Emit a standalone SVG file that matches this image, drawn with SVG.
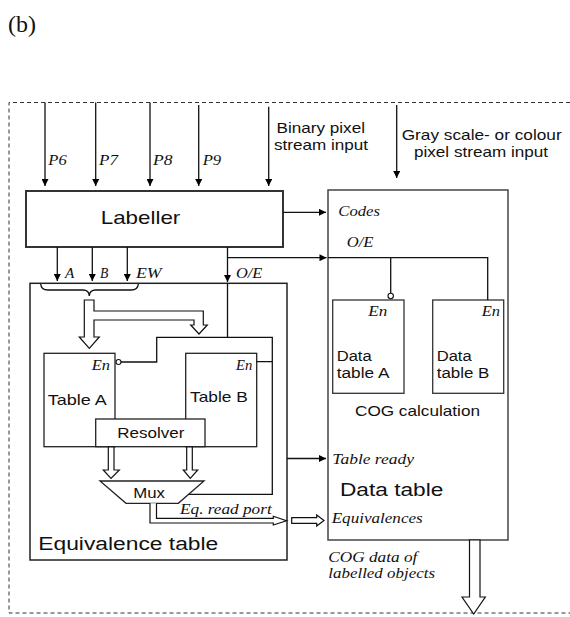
<svg xmlns="http://www.w3.org/2000/svg" width="570" height="617" viewBox="0 0 570 617">
<style>
.sans{font-family:"Liberation Sans",Arial,sans-serif;fill:#111}
.it{font-family:"Liberation Serif","Times New Roman",serif;font-style:italic;fill:#111}
.box{fill:none;stroke:#222;stroke-width:1.5}
.ln{fill:none;stroke:#111;stroke-width:1.3}
.hol{fill:#fff;stroke:#111;stroke-width:1.2}
.dash{fill:none;stroke:#333;stroke-width:1;stroke-dasharray:4 3}
</style>
<defs>
<marker id="ah" viewBox="0 0 10 10" refX="10" refY="5" markerWidth="8" markerHeight="7" markerUnits="userSpaceOnUse" orient="auto">
<path d="M0,0 L10,5 L0,10 Z" fill="#000"/>
</marker>
</defs>
<rect width="570" height="617" fill="#fff"/>
<text x="8" y="32" style="font-family:'Liberation Serif',serif;font-size:24px;fill:#111">(b)</text>
<path class="dash" d="M570,102.5 H9 V613 H570"/>

<g id="labeller">
<rect class="box" x="26" y="191" width="257" height="56" style="stroke:#333;stroke-width:2"/>
<text class="sans" x="100.7" y="224" font-size="19" textLength="79.6" lengthAdjust="spacingAndGlyphs">Labeller</text>
</g>

<g id="data-table">
<rect class="box" x="328" y="190" width="180" height="350" style="stroke:#444"/>
<text class="it" x="338.3" y="216" font-size="14" textLength="41.7" lengthAdjust="spacingAndGlyphs">Codes</text>
<text class="it" x="346.7" y="246.7" font-size="14" textLength="26.7" lengthAdjust="spacingAndGlyphs">O/E</text>
<text class="sans" x="355" y="415.7" font-size="15" textLength="125" lengthAdjust="spacingAndGlyphs">COG calculation</text>
<text class="it" x="332.3" y="464" font-size="15" textLength="81.7" lengthAdjust="spacingAndGlyphs">Table ready</text>
<text class="sans" x="340" y="495.7" font-size="17.5" textLength="103.3" lengthAdjust="spacingAndGlyphs">Data table</text>
<text class="it" x="331.7" y="523.3" font-size="15" textLength="91" lengthAdjust="spacingAndGlyphs">Equivalences</text>
</g>

<g id="data-table-a">
<rect class="box" x="332.7" y="300" width="71.3" height="93.3" style="stroke:#333;stroke-width:1.3"/>
<text class="it" x="368.3" y="316" font-size="15" textLength="19" lengthAdjust="spacingAndGlyphs">En</text>
<text class="sans" x="336.7" y="360.7" font-size="14" textLength="35" lengthAdjust="spacingAndGlyphs">Data</text>
<text class="sans" x="336.7" y="378.3" font-size="14" textLength="52.7" lengthAdjust="spacingAndGlyphs">table A</text>
</g>

<g id="data-table-b">
<rect class="box" x="432.7" y="300" width="71" height="93.3" style="stroke:#333;stroke-width:1.3"/>
<text class="it" x="481.7" y="316" font-size="15" textLength="18.3" lengthAdjust="spacingAndGlyphs">En</text>
<text class="sans" x="436.7" y="360.7" font-size="14" textLength="35" lengthAdjust="spacingAndGlyphs">Data</text>
<text class="sans" x="436.7" y="378.3" font-size="14" textLength="52.7" lengthAdjust="spacingAndGlyphs">table B</text>
</g>

<g id="equivalence-table">
<rect class="box" x="30" y="283.3" width="257" height="276.7"/>
<text class="sans" x="38.3" y="550" font-size="18" textLength="180" lengthAdjust="spacingAndGlyphs">Equivalence table</text>
</g>

<g id="table-a">
<rect class="box" x="44" y="353.3" width="71" height="93.4" style="stroke-width:1.3"/>
<text class="it" x="91.7" y="370" font-size="15" textLength="18.3" lengthAdjust="spacingAndGlyphs">En</text>
<text class="sans" x="47.7" y="405" font-size="15" textLength="59" lengthAdjust="spacingAndGlyphs">Table A</text>
</g>

<g id="table-b">
<rect class="box" x="185.7" y="353.3" width="71" height="93.4" style="stroke-width:1.3"/>
<text class="it" x="236" y="370" font-size="15" textLength="16.3" lengthAdjust="spacingAndGlyphs">En</text>
<text class="sans" x="190" y="401.7" font-size="15" textLength="57.7" lengthAdjust="spacingAndGlyphs">Table B</text>
</g>

<g id="resolver">
<rect x="95.7" y="419" width="109.3" height="27.7" fill="#fff" stroke="#222" stroke-width="1.3"/>
<text class="sans" x="117.3" y="438.3" font-size="14" textLength="67" lengthAdjust="spacingAndGlyphs">Resolver</text>
</g>

<g id="mux">
<polygon points="100,481 204,481 178.3,503.3 126,503.3" fill="#fff" stroke="#222" stroke-width="1.3"/>
<text class="sans" x="133.3" y="497.7" font-size="14" textLength="31.7" lengthAdjust="spacingAndGlyphs">Mux</text>
</g>

<g id="connectors">
<line class="ln" x1="45" y1="102.5" x2="45" y2="186" marker-end="url(#ah)"/>
<line class="ln" x1="95.7" y1="102.5" x2="95.7" y2="186" marker-end="url(#ah)"/>
<line class="ln" x1="150" y1="102.5" x2="150" y2="186" marker-end="url(#ah)"/>
<line class="ln" x1="198.7" y1="105" x2="198.7" y2="186" marker-end="url(#ah)"/>
<line class="ln" x1="268.7" y1="106.7" x2="268.7" y2="186" marker-end="url(#ah)"/>
<line class="ln" x1="396.7" y1="105" x2="396.7" y2="178" marker-end="url(#ah)"/>
<text class="it" x="48.3" y="165" font-size="15" textLength="18.4" lengthAdjust="spacingAndGlyphs">P6</text>
<text class="it" x="99" y="165" font-size="15" textLength="19" lengthAdjust="spacingAndGlyphs">P7</text>
<text class="it" x="153" y="165" font-size="15" textLength="19.5" lengthAdjust="spacingAndGlyphs">P8</text>
<text class="it" x="202.7" y="165" font-size="15" textLength="18.5" lengthAdjust="spacingAndGlyphs">P9</text>
<text class="sans" x="276.5" y="133.3" font-size="14.5" textLength="88.5" lengthAdjust="spacingAndGlyphs">Binary pixel</text>
<text class="sans" x="274" y="150" font-size="14.5" textLength="94" lengthAdjust="spacingAndGlyphs">stream input</text>
<text class="sans" x="401.7" y="140" font-size="14.5" textLength="160" lengthAdjust="spacingAndGlyphs">Gray scale- or colour</text>
<text class="sans" x="414" y="156.7" font-size="14.5" textLength="134" lengthAdjust="spacingAndGlyphs">pixel stream input</text>

<line class="ln" x1="283" y1="212.3" x2="326" y2="212.3" marker-end="url(#ah)"/>
<line class="ln" x1="227.5" y1="257.7" x2="326.5" y2="257.7" marker-end="url(#ah)"/>
<line class="ln" x1="57.3" y1="247" x2="57.3" y2="281" marker-end="url(#ah)"/>
<line class="ln" x1="92.3" y1="247" x2="92.3" y2="281" marker-end="url(#ah)"/>
<line class="ln" x1="127.3" y1="247" x2="127.3" y2="281" marker-end="url(#ah)"/>
<line class="ln" x1="227.5" y1="247" x2="227.5" y2="282" marker-end="url(#ah)"/>
<text class="it" x="65" y="278.3" font-size="15" textLength="9.3" lengthAdjust="spacingAndGlyphs">A</text>
<text class="it" x="100" y="278.3" font-size="15" textLength="8.3" lengthAdjust="spacingAndGlyphs">B</text>
<text class="it" x="136" y="278.3" font-size="15" textLength="25.7" lengthAdjust="spacingAndGlyphs">EW</text>
<text class="it" x="236" y="278.3" font-size="15" textLength="26.3" lengthAdjust="spacingAndGlyphs">O/E</text>

<path class="ln" d="M328,257.7 H487.7 V300 M390.7,257.7 V293.3"/>
<circle cx="390.7" cy="296" r="2.7" fill="#fff" stroke="#111" stroke-width="1.1"/>

<path class="ln" d="M40.7,284 Q41,290 48,290 H83 Q89,290 89.3,296 Q89.6,290 95.7,290 H131 Q138,290 138.3,284" stroke-width="1"/>
<path class="hol" d="M84.3,300 H94 V311 H203.3 V325 H207.3 L199,334 L190.7,325 H194 V320 H94 V337 H99.3 L89.3,348.3 L79.3,337 H84.3 Z"/>

<path class="ln" d="M227.5,283 V337.3 M121,362 H156.7 V337.3 H272.3 V361.7 H256.7 M272.3,361.7 V494.3 H189"/>
<circle cx="118.5" cy="362" r="2.5" fill="#fff" stroke="#111" stroke-width="1.1"/>

<path class="hol" d="M108.3,447 H114 V470 H119.3 L111,478.3 L103.3,470 H108.3 Z"/>
<path class="hol" d="M186.7,447 H192.3 V470 H197.7 L190.3,478.3 L183.3,470 H186.7 Z"/>

<path class="hol" d="M156.5,503.3 V518.3 H273.3 V516.3 L286.5,520.7 L273.3,525 V523 H150 V503.3" fill="none"/>
<text class="it" x="180" y="514" font-size="14" textLength="91.7" lengthAdjust="spacingAndGlyphs">Eq. read port</text>

<line class="ln" x1="287" y1="458.5" x2="326" y2="458.5" marker-end="url(#ah)"/>
<path class="hol" d="M291.7,517.7 H316.7 V515 L324,520.5 L316.7,526 V523.3 H291.7 Z"/>
<path class="hol" d="M469.5,540 H480 V597 H485.3 L473.7,614 L462,597 H469.5 Z"/>
<text class="it" x="328.3" y="561.7" font-size="15" textLength="89" lengthAdjust="spacingAndGlyphs">COG data of</text>
<text class="it" x="328.3" y="578.3" font-size="15" textLength="106.7" lengthAdjust="spacingAndGlyphs">labelled objects</text>
</g>
</svg>
